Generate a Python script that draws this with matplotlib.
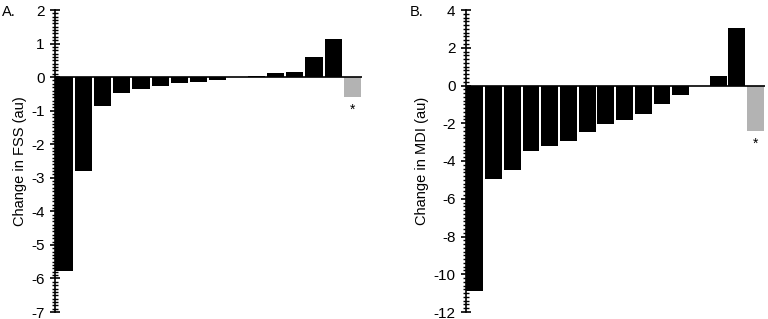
import matplotlib.pyplot as plt
import numpy as np
from matplotlib.ticker import MultipleLocator

plt.rcParams['font.family'] = ['Liberation Sans', 'DejaVu Sans']
plt.rcParams['axes.unicode_minus'] = False

# Data
fss_change = [-5.78, -2.81, -0.85, -0.46, -0.34, -0.25, -0.19, -0.15, -0.10,
              0.0, 0.04, 0.11, 0.15, 0.59, 1.13, -0.59]
mdi_change = [-10.88, -4.94, -4.48, -3.49, -3.23, -2.93, -2.47, -2.06, -1.83,
              -1.52, -1.00, -0.51, 0.0, 0.49, 3.02, -2.40]
fss_star = -0.97
mdi_star = -3.10

fig = plt.figure(figsize=(7.68, 3.19), dpi=100)
ax1 = fig.add_axes([55/768, 1 - 312/319, 307/768, 302/319])
ax2 = fig.add_axes([466/768, 1 - 312/319, 299/768, 302/319])


def draw(ax, vals, star, ylim, major, minor, ylabel, tag, tagx):
    x = np.arange(len(vals))
    colors = ['black'] * (len(vals) - 1) + ['#b3b3b3']
    ax.bar(x, vals, 0.9, color=colors)
    ax.axhline(0, color='black', lw=1.2)
    ax.text(x[-1], star, '*', ha='center', va='center', fontsize=10)
    ax.set_xlim(-0.47, len(vals) - 0.5)
    ax.set_ylim(*ylim)
    ax.yaxis.set_major_locator(MultipleLocator(major))
    ax.yaxis.set_minor_locator(MultipleLocator(minor))
    ax.tick_params(axis='y', which='major', direction='inout', length=7, width=1.2, labelsize=11, pad=4)
    ax.tick_params(axis='y', which='minor', direction='inout', length=5, width=1)
    ax.set_xticks([])
    for s in ['top', 'right', 'bottom']:
        ax.spines[s].set_visible(False)
    ax.spines['left'].set_linewidth(1.2)
    ax.set_ylabel(ylabel, fontsize=10.5, labelpad=3)
    fig.text(tagx, 1 - 12/319, tag, fontsize=10.5, ha='left', va='center')


draw(ax1, fss_change, fss_star, (-7, 2), 1, 0.1, 'Change in FSS (au)', 'A.', 2/768)
draw(ax2, mdi_change, mdi_star, (-12, 4), 2, 0.2, 'Change in MDI (au)', 'B.', 410/768)

plt.savefig('out.png', dpi=100)
